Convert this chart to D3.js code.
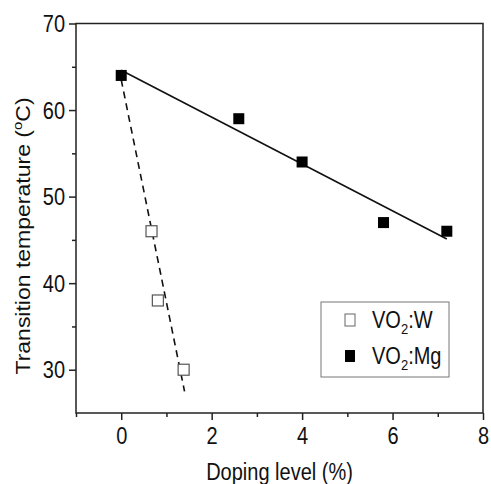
<!DOCTYPE html>
<html>
<head>
<meta charset="utf-8">
<script src="https://cdn.jsdelivr.net/npm/d3@7"></script>
<style>
  body { margin: 0; background: #fff; }
  text { font-family: "Liberation Sans", Arial, sans-serif; fill: #111; }
</style>
</head>
<body>
<svg id="chart"></svg>
<script>
// values
var mgDoping = [0, 2.6, 4, 5.8, 7.2];
var mgTemp   = [64, 59, 54, 47, 46];
var wDoping  = [0.67, 0.81, 1.38];
var wTemp    = [46, 38, 30];
// fitted lines (end points)
var mgFit = [[0, 64.6], [7.2, 45.1]];
var wFit  = [[0, 63.5], [1.4, 27.5]];

var xTicks = [0, 2, 4, 6, 8];
var xMinor = [-1, 1, 3, 5, 7];
var yTicks = [30, 40, 50, 60, 70];
var yMinor = [35, 45, 55, 65];

var W = 491, H = 484;
var m = {left: 76, right: 8, top: 23.5, bottom: 71};
var stretch = 1.15;

var svg = d3.select('#chart').attr('width', W).attr('height', H);

var x = d3.scaleLinear().domain([-1, 8]).range([m.left, W - m.right]);
var y = d3.scaleLinear().domain([25, 70]).range([H - m.bottom, m.top]);

// minor ticks
svg.append('g')
  .attr('transform', 'translate(0,' + (H - m.bottom) + ')')
  .call(d3.axisBottom(x).tickValues(xMinor).tickSize(4).tickFormat(''))
  .call(function (g) { g.select('.domain').remove(); });
svg.append('g')
  .attr('transform', 'translate(' + m.left + ',0)')
  .call(d3.axisLeft(y).tickValues(yMinor).tickSize(4).tickFormat(''))
  .call(function (g) { g.select('.domain').remove(); });

// major ticks
var xAxis = svg.append('g')
  .attr('transform', 'translate(0,' + (H - m.bottom) + ')')
  .call(d3.axisBottom(x).tickValues(xTicks).tickSize(7).tickFormat(d3.format('d')));
var yAxis = svg.append('g')
  .attr('transform', 'translate(' + m.left + ',0)')
  .call(d3.axisLeft(y).tickValues(yTicks).tickSize(7).tickFormat(d3.format('d')));

[xAxis, yAxis].forEach(function (g) {
  g.select('.domain').remove();
  g.selectAll('line').attr('stroke', '#222').attr('stroke-width', 1.5);
  g.selectAll('text').attr('font-size', 20).attr('dy', null).attr('x', 0).attr('y', 0);
});
xAxis.selectAll('text')
  .attr('text-anchor', 'middle')
  .attr('transform', 'translate(0,31) scale(1,' + stretch + ')');
yAxis.selectAll('text')
  .attr('text-anchor', 'end')
  .attr('transform', 'translate(-11,8) scale(1,' + stretch + ')');
svg.selectAll('.tick line').attr('stroke', '#222').attr('stroke-width', 1.5);

// frame
svg.append('rect')
  .attr('x', x(-1)).attr('y', y(70))
  .attr('width', x(8) - x(-1)).attr('height', y(25) - y(70))
  .attr('fill', 'none').attr('stroke', '#222').attr('stroke-width', 1.5);

// fit lines
var line = d3.line().x(function (d) { return x(d[0]); }).y(function (d) { return y(d[1]); });
svg.append('path').datum(mgFit).attr('d', line)
  .attr('fill', 'none').attr('stroke', '#111').attr('stroke-width', 1.6);
svg.append('path').datum(wFit).attr('d', line)
  .attr('fill', 'none').attr('stroke', '#111').attr('stroke-width', 1.6)
  .attr('stroke-dasharray', '7,5');

// markers
var s = 11;
svg.append('g').selectAll('rect')
  .data(wDoping.map(function (d, i) { return [d, wTemp[i]]; }))
  .enter().append('rect')
  .attr('x', function (d) { return x(d[0]) - s / 2; })
  .attr('y', function (d) { return y(d[1]) - s / 2; })
  .attr('width', s).attr('height', s)
  .attr('fill', '#fff').attr('stroke', '#555').attr('stroke-width', 1.2);
svg.append('g').selectAll('rect')
  .data(mgDoping.map(function (d, i) { return [d, mgTemp[i]]; }))
  .enter().append('rect')
  .attr('x', function (d) { return x(d[0]) - s / 2; })
  .attr('y', function (d) { return y(d[1]) - s / 2; })
  .attr('width', s).attr('height', s)
  .attr('fill', '#000');

// legend
var legend = svg.append('g');
legend.append('rect')
  .attr('x', 321).attr('y', 302).attr('width', 128).attr('height', 75)
  .attr('fill', '#fff').attr('stroke', '#777').attr('stroke-width', 1);
var legendItems = [
  {label: ':W', open: true, cy: 320},
  {label: ':Mg', open: false, cy: 356}
];
legendItems.forEach(function (it) {
  legend.append('rect')
    .attr('x', 350 - 5).attr('y', it.cy - 6).attr('width', 10).attr('height', 12)
    .attr('fill', it.open ? '#fff' : '#000')
    .attr('stroke', it.open ? '#666' : 'none').attr('stroke-width', 1);
  var t = legend.append('text')
    .attr('font-size', 20)
    .attr('transform', 'translate(372,' + (it.cy + 8) + ') scale(1,' + stretch + ')');
  t.append('tspan').text('VO');
  t.append('tspan').attr('font-size', 13).attr('dy', 5).text('2');
  t.append('tspan').attr('dy', -5).text(it.label);
});

// axis titles
svg.append('text')
  .attr('font-size', 20).attr('text-anchor', 'middle')
  .attr('transform', 'translate(' + ((x(-1) + x(8)) / 2) + ',480) scale(1,' + stretch + ')')
  .text('Doping level (%)');

var yl = svg.append('text')
  .attr('font-size', 20).attr('text-anchor', 'middle')
  .attr('transform', 'translate(29.5,236) rotate(-90) scale(' + stretch + ',1)');
yl.append('tspan').text('Transition temperature (');
yl.append('tspan').attr('font-size', 13).attr('dy', -8).text('o');
yl.append('tspan').attr('dy', 8).text('C)');
</script>
</body>
</html>
